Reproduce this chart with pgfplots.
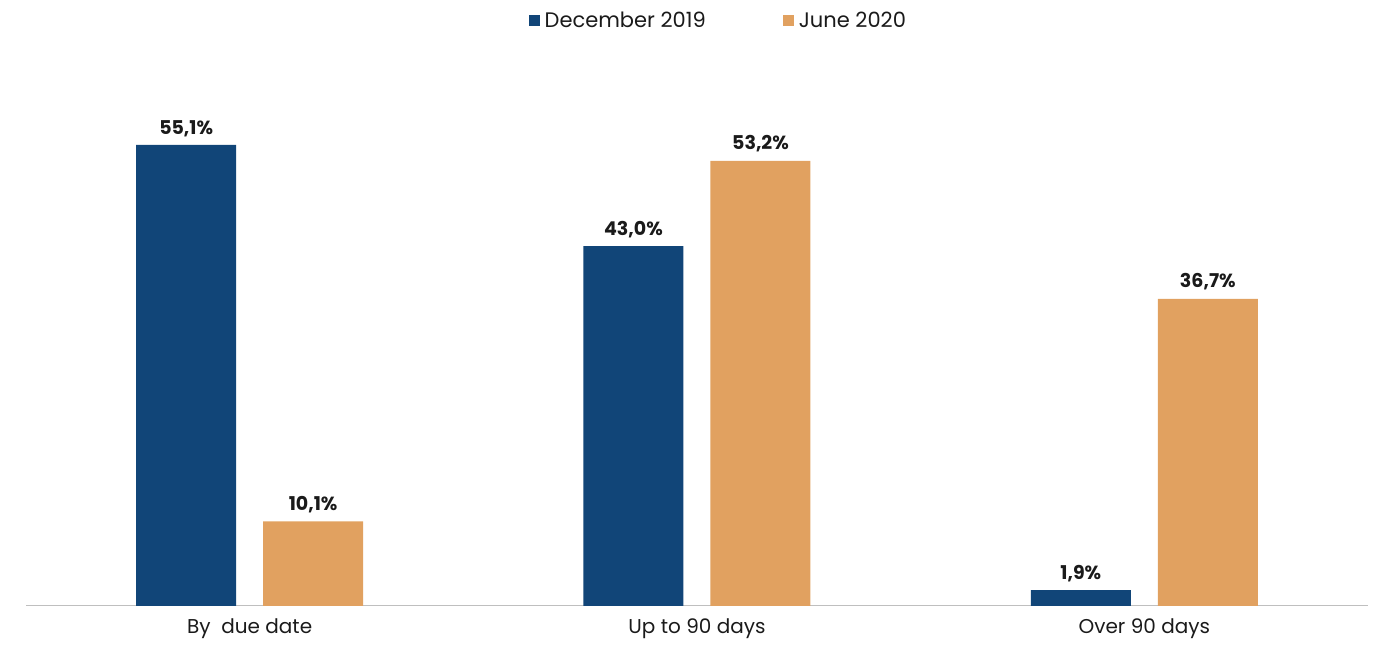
\documentclass[border=0pt]{standalone}
\usepackage{pgfplots}
\pgfplotsset{compat=1.18}
\usepackage{fontspec}
\setmainfont{Poppins}
\definecolor{decblue}{RGB}{17,69,120}
\definecolor{junorange}{RGB}{225,161,96}
\definecolor{axgrey}{RGB}{191,191,191}
\definecolor{txt}{RGB}{26,26,26}
\begin{document}
\begin{tikzpicture}
\useasboundingbox (0,0) rectangle (1376pt,648pt);
\begin{axis}[
  at={(26pt,42pt)}, anchor=south west,
  scale only axis,
  width=1342pt, height=502pt,
  xmin=-0.5, xmax=2.5,
  ymin=0, ymax=60,
  ybar, bar width=100pt,
  axis x line*=bottom,
  axis y line=none,
  x axis line style={draw=axgrey, line width=1pt},
  xtick={0,1,2},
  xticklabels={By\ \ due date, Up to 90 days, Over 90 days},
  xtick style={draw=none},
  x tick label style={font=\fontsize{20}{24}\selectfont, text=txt, yshift=-5pt},
  nodes near coords={\pgfmathprintnumber[fixed,fixed zerofill,precision=1,use comma,assume math mode=true]{\pgfplotspointmeta}\%},
  every node near coord/.append style={font=\bfseries\fontsize{19}{22}\selectfont, text=txt, yshift=5pt},
  legend columns=2,
  legend style={at={(0.517,1.167)}, anchor=center, draw=none, fill=none,
    font=\fontsize{21}{24}\selectfont, text=txt,
    nodes={inner xsep=5pt},
    /tikz/every even column/.append style={column sep=72pt}},
  legend image code/.code={\fill[#1] (0pt,-6pt) rectangle (11pt,5pt);},
  clip=false,
]
\addplot[fill=decblue, draw=none, bar shift=-63.5pt] coordinates {(0,55.1) (1,43.0) (2,1.9)};
\addplot[fill=junorange, draw=none, bar shift=63.5pt] coordinates {(0,10.1) (1,53.2) (2,36.7)};
\legend{December 2019, June 2020}
\end{axis}
\end{tikzpicture}
\end{document}
